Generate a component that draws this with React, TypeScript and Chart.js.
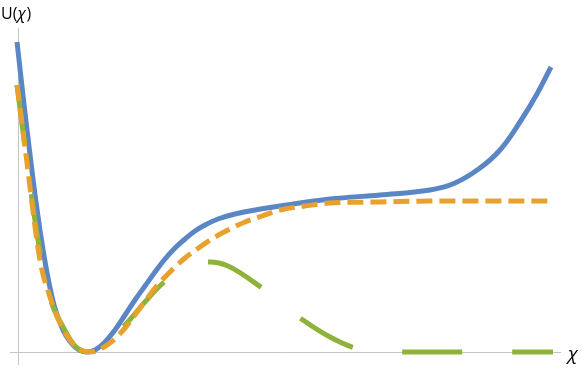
import React, { useEffect, useRef } from "react";
import { Chart, registerables } from "chart.js";

Chart.register(...registerables);

// Values (χ, U)
const blueX = [-0.014, 0.129, 0.314, 0.486, 0.643, 0.814, 0.971, 1.1, 1.243, 1.386, 1.529, 1.671, 1.814, 1.957, 2.1, 2.243, 2.386, 2.529, 2.671, 2.857, 3.1, 3.386, 3.743, 4.457, 5.171, 5.886, 6.243, 6.6, 6.886, 7.171, 7.414, 7.614];
const blueY = [3.10, 2.22, 1.22, 0.55, 0.22, 0.05, 0.0, 0.02, 0.10, 0.22, 0.37, 0.52, 0.66, 0.80, 0.93, 1.04, 1.13, 1.21, 1.27, 1.33, 1.38, 1.42, 1.46, 1.53, 1.57, 1.62, 1.69, 1.84, 2.02, 2.30, 2.58, 2.85];

const orangeX = [-0.014, 0.1, 0.314, 0.457, 0.6, 0.814, 1.029, 1.314, 1.529, 1.743, 1.957, 2.171, 2.386, 2.6, 2.814, 3.0, 3.243, 3.486, 3.743, 4.1, 4.457, 5.171, 5.886, 7.643];
const orangeY = [2.67, 2.05, 0.92, 0.55, 0.29, 0.06, 0.0, 0.09, 0.24, 0.44, 0.64, 0.80, 0.94, 1.05, 1.15, 1.22, 1.30, 1.36, 1.42, 1.46, 1.49, 1.50, 1.51, 1.51];

const greenX = [-0.014, 0.1, 0.286, 0.457, 0.629, 0.814, 1.0, 1.171, 1.529, 1.814, 2.071, 2.386, 2.571, 2.743, 3.0, 3.486, 4.071, 4.457, 4.814, 5.1, 7.643];
const greenY = [2.67, 2.05, 1.12, 0.54, 0.27, 0.06, 0.0, 0.03, 0.27, 0.50, 0.69, 0.85, 0.90, 0.90, 0.86, 0.64, 0.32, 0.15, 0.04, 0.0, 0.0];

const yLabelMain = "U(";
const yLabelVar = "χ";
const yLabelEnd = ")";
const xLabel = "χ";

const toPoints = (xs: number[], ys: number[]) => xs.map((x, i) => ({ x, y: ys[i] }));

export default function App() {
  const ref = useRef<HTMLCanvasElement | null>(null);
  useEffect(() => {
    if (!ref.current) return;
    const axesPlugin = {
      id: "axesPlugin",
      beforeDatasetsDraw(chart: any) {
        const { ctx, scales } = chart;
        const sx = scales.x, sy = scales.y;
        const x0 = sx.getPixelForValue(0);
        const y0 = sy.getPixelForValue(0);
        ctx.save();
        ctx.strokeStyle = "#c4c4c4";
        ctx.lineWidth = 1;
        ctx.beginPath();
        ctx.moveTo(sx.getPixelForValue(-0.114), Math.round(y0) + 0.5);
        ctx.lineTo(sx.getPixelForValue(7.757), Math.round(y0) + 0.5);
        ctx.moveTo(Math.round(x0) + 0.5, sy.getPixelForValue(3.24));
        ctx.lineTo(Math.round(x0) + 0.5, sy.getPixelForValue(-0.13));
        ctx.stroke();
        ctx.fillStyle = "#000";
        ctx.textBaseline = "alphabetic";
        ctx.textAlign = "left";
        ctx.font = "16px 'Open Sans'";
        const uw = ctx.measureText(yLabelMain).width;
        ctx.fillText(yLabelMain, 1, 19);
        ctx.font = "italic 16px 'Open Sans'";
        const cw = ctx.measureText(yLabelVar).width;
        ctx.fillText(yLabelVar, 1 + uw, 19);
        ctx.font = "16px 'Open Sans'";
        ctx.fillText(yLabelEnd, 1 + uw + cw + 1, 19);
        ctx.font = "italic 19px 'Open Sans'";
        ctx.fillText(xLabel, 568, 360);
        ctx.restore();
      },
    };
    const common = {
      borderWidth: 5,
      pointRadius: 0,
      fill: false,
    };
    const chart = new Chart(ref.current, {
      type: "line",
      data: {
        datasets: [
          {
            label: "orange",
            data: toPoints(orangeX, orangeY),
            borderColor: "#e8a12a",
            borderDash: [16, 7],
            cubicInterpolationMode: "monotone",
            ...common,
          },
          {
            label: "green",
            data: toPoints(greenX, greenY),
            borderColor: "#8db33a",
            borderDash: [60, 50],
            cubicInterpolationMode: "monotone",
            ...common,
          },
          {
            label: "blue",
            data: toPoints(blueX, blueY),
            borderColor: "#5b86c5",
            tension: 0.4,
            ...common,
          },
        ],
      },
      options: {
        animation: false,
        responsive: false,
        events: [],
        layout: { padding: 0 },
        clip: false as any,
        plugins: { legend: { display: false }, tooltip: { enabled: false }, title: { display: false } },
        scales: {
          x: { type: "linear", display: false, min: -18 / 70, max: 563 / 70 },
          y: { type: "linear", display: false, min: -0.2, max: 3.52 },
        },
      },
      plugins: [axesPlugin],
    });
    return () => chart.destroy();
  }, []);
  return (
    <div style={{ position: "fixed", left: 0, top: 0, width: 581, height: 372, background: "#fff" }}>
      <canvas ref={ref} width={581} height={372} />
    </div>
  );
}
